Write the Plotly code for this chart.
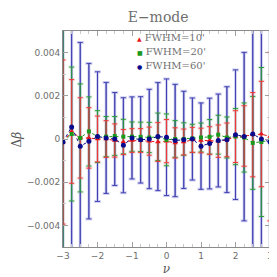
import plotly.graph_objects as go

nu = [-3.0, -2.75, -2.5, -2.25, -2.0, -1.75, -1.5, -1.25, -1.0, -0.75, -0.5, -0.25,
      0.0, 0.25, 0.5, 0.75, 1.0, 1.25, 1.5, 1.75, 2.0, 2.25, 2.5, 2.75, 3.0]

# FWHM = 10'
red_val = [-0.00014, 0.00035, 0.00005, 0.00005, 0.0, 0.0, -0.00007, -0.00014, -0.00007, -0.00007,
           -0.0001, -0.00014, -0.0001, -0.00018, -0.00014, -0.00004, -0.00007, -0.00007, -0.0001,
           -0.00004, 0.00011, 0.00014, 0.0002, 0.00023, 0.00011]
red_err = [0.0038, 0.0024, 0.00186, 0.0014, 0.00106, 0.00085, 0.00077, 0.00058, 0.00055, 0.00055,
           0.00065, 0.0009, 0.001, 0.0007, 0.0006, 0.00058, 0.00057, 0.00064, 0.00075, 0.00078,
           0.0012, 0.0014, 0.00195, 0.00244, 0.0039]

# FWHM = 20'
green_val = [-0.00014, 0.00023, 0.00005, 0.00035, 0.00011, 0.00011, 0.00014, 0.00011, 0.00011, 0.0001,
             0.00007, 0.0001, -0.00004, 0.0, 0.0, 0.00003, 0.00007, 0.0001, 0.0002, 0.00007,
             0.00011, 0.00007, -0.00018, -0.00014, -0.00007]
green_err = [0.0052, 0.0031, 0.0025, 0.0016, 0.0012, 0.00093, 0.0009, 0.0008, 0.00068, 0.00068,
             0.0007, 0.0011, 0.0012, 0.00085, 0.00075, 0.00065, 0.00067, 0.0008, 0.0009, 0.00095,
             0.0013, 0.0016, 0.00215, 0.00345, 0.0055]

# FWHM = 60'
blue_val = [-0.00014, 0.00056, -0.00033, -0.0001, 0.00011, 0.00005, 0.0, -0.00029, 0.00005, -0.00004,
            0.0, 0.00011, 0.00008, -0.00007, -0.00004, 0.0, -0.00033, -0.00021, -0.00007, -0.00003,
            0.0002, 0.00011, 0.00023, 0.0, -0.00014]
blue_err = [0.008, 0.0065, 0.0048, 0.0036, 0.003, 0.00257, 0.00215, 0.0022, 0.0019, 0.002,
            0.0023, 0.0025, 0.0027, 0.0026, 0.00225, 0.0019, 0.002, 0.0021, 0.00215, 0.00245,
            0.003, 0.0039, 0.0065, 0.007, 0.008]

labels = ["FWHM=10'", "FWHM=20'", "FWHM=60'"]

series = [
    dict(name=labels[0], y=red_val, e=red_err, col="#e8161b", band="rgba(255,170,170,0.3)",
         thin="rgba(110,90,100,0.45)", cap="#f03838", sym="triangle-up", size=5, glyph="\u25b2"),
    dict(name=labels[1], y=green_val, e=green_err, col="#1a9a1a", band="rgba(160,210,160,0.3)",
         thin="rgba(60,110,80,0.5)", cap="#2a9a3a", sym="square", size=4, glyph="\u25a0"),
    dict(name=labels[2], y=blue_val, e=blue_err, col="#0a0a8c", band="rgba(175,175,232,0.55)",
         thin="rgba(70,70,180,0.85)", cap="#4040b0", sym="circle", size=5, glyph="\u25cf"),
]

fig = go.Figure()

# wide light error bands (blue first, so smaller bars sit on top)
for s in reversed(series):
    fig.add_trace(go.Scatter(
        x=nu, y=s["y"], mode="markers", marker=dict(size=1, opacity=0),
        error_y=dict(type="data", array=s["e"], visible=True, color=s["band"], thickness=3, width=3.5),
        showlegend=False, hoverinfo="skip"))

# thin darker error lines
for s in reversed(series):
    fig.add_trace(go.Scatter(
        x=nu, y=s["y"], mode="markers", marker=dict(size=1, opacity=0),
        error_y=dict(type="data", array=s["e"], visible=True, color=s["thin"], thickness=1, width=0),
        showlegend=False, hoverinfo="skip"))

# caps
for s in reversed(series):
    fig.add_trace(go.Scatter(
        x=nu, y=s["y"], mode="markers", marker=dict(size=1, opacity=0),
        error_y=dict(type="data", array=s["e"], visible=True, color=s["cap"], thickness=1, width=2.5),
        showlegend=False, hoverinfo="skip"))

# dotted connecting lines
for s in series:
    fig.add_trace(go.Scatter(
        x=nu, y=s["y"], mode="lines", line=dict(color=s["col"], width=1, dash="dot"),
        showlegend=False, hoverinfo="skip"))

# markers
for s in series:
    fig.add_trace(go.Scatter(
        x=nu, y=s["y"], mode="markers", name=s["name"], showlegend=False,
        marker=dict(symbol=s["sym"], color=s["col"], size=s["size"], line=dict(width=0))))

# legend as annotations (compact row spacing like the reference)
for i, s in enumerate(series):
    fig.add_annotation(
        xref="paper", yref="paper", x=0.35, y=0.972 - i * 0.067, xanchor="left", yanchor="middle",
        showarrow=False,
        text=f"<span style='color:{s['col']};font-size:6px'>{s['glyph']}</span>&nbsp;{s['name']}",
        font=dict(family="DejaVu Serif", size=10, color="#707070"))

# y-axis title placed like the reference (far left)
fig.add_annotation(xref="paper", yref="paper", x=-0.22, y=0.5, xanchor="center", yanchor="middle",
                   showarrow=False, textangle=-90, text="\u0394<i>\u03b2</i>",
                   font=dict(family="DejaVu Serif", size=12, color="#555555"))

axis_common = dict(showgrid=False, zeroline=False, showline=True, mirror="allticks",
                   linecolor="#8a8a8a", linewidth=1, ticks="inside", tickcolor="#a0a0a0",
                   ticklen=5, tickwidth=1,
                   tickfont=dict(family="DejaVu Sans", size=9, color="#6e6e6e"))

fig.update_layout(
    width=277, height=277,
    margin=dict(l=55, r=14, t=23, b=30),
    paper_bgcolor="white", plot_bgcolor="white",
    showlegend=False,
    title=dict(text="E\u2212mode", x=0.542, xanchor="center", y=0.968, yanchor="middle",
               font=dict(family="DejaVu Serif", size=14, color="#707070")),
    xaxis=dict(range=[-3, 3], tickmode="array", tickvals=[-3, -2, -1, 0, 1, 2, 3],
               ticktext=["\u22123", "\u22122", "\u22121", "0", "1", "2", "3"],
               minor=dict(dtick=0.25, ticks="inside", ticklen=3, tickcolor="#c8c8c8"),
               title=dict(text="<i>\u03bd</i>", standoff=4,
                          font=dict(family="DejaVu Serif", size=12, color="#555555")),
               **axis_common),
    yaxis=dict(range=[-0.005, 0.005], tickmode="array",
               tickvals=[-0.004, -0.002, 0, 0.002, 0.004],
               ticktext=["\u22120.004", "\u22120.002", "0", "0.002", "0.004"],
               minor=dict(dtick=0.001, ticks="inside", ticklen=3, tickcolor="#c8c8c8"),
               **axis_common),
)

fig.write_html("out.html")
